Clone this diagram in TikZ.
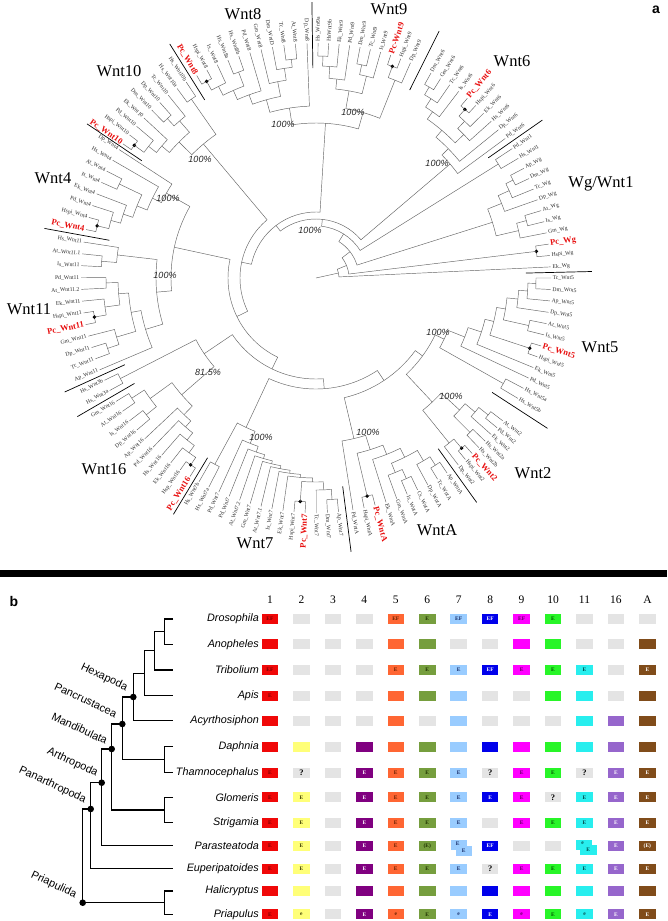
\documentclass[tikz,border=0pt]{standalone}
\usepackage{fontspec}
\setmainfont{Liberation Serif}
\newfontfamily\ars{Liberation Sans}
\definecolor{treegray}{RGB}{100,100,100}
\definecolor{leafgray}{RGB}{45,45,45}
\definecolor{pcred}{RGB}{232,16,16}
\definecolor{gry}{RGB}{228,228,228}
\definecolor{col1}{RGB}{240,8,8}
\definecolor{col2}{RGB}{255,255,120}
\definecolor{col3}{RGB}{228,228,228}
\definecolor{col4}{RGB}{128,0,128}
\definecolor{col5}{RGB}{255,102,51}
\definecolor{col6}{RGB}{118,158,62}
\definecolor{col7}{RGB}{153,204,255}
\definecolor{col8}{RGB}{0,0,235}
\definecolor{col9}{RGB}{255,0,255}
\definecolor{col10}{RGB}{40,245,40}
\definecolor{col11}{RGB}{40,238,238}
\definecolor{col12}{RGB}{150,102,204}
\definecolor{col13}{RGB}{128,76,26}
\definecolor{tcol1}{RGB}{120,0,0}
\definecolor{tcol2}{RGB}{60,60,0}
\definecolor{tcol3}{RGB}{0,0,0}
\definecolor{tcol4}{RGB}{255,255,255}
\definecolor{tcol5}{RGB}{100,30,0}
\definecolor{tcol6}{RGB}{30,50,0}
\definecolor{tcol7}{RGB}{20,40,100}
\definecolor{tcol8}{RGB}{255,255,255}
\definecolor{tcol9}{RGB}{90,0,90}
\definecolor{tcol10}{RGB}{0,80,0}
\definecolor{tcol11}{RGB}{0,70,70}
\definecolor{tcol12}{RGB}{255,255,255}
\definecolor{tcol13}{RGB}{255,255,255}
\newcommand\PC[1]{{\fontsize{8.5}{8.5}\selectfont\bfseries\color{pcred}#1}}
\newcommand\QQ{{\fontsize{8.5}{8.5}\selectfont ?}}
\def\tipR{235}
\def\labR{236.5}
\newcommand\lf[3]{%
  \expandafter\xdef\csname A@#1\endcsname{#2}%
  \expandafter\xdef\csname R@#1\endcsname{\tipR}%
  \pgfmathsetmacro\lfang{#2}%
  \pgfmathtruncatemacro\lfleft{(\lfang>90)&&(\lfang<270)}%
  \ifnum\lfleft=1
    \node[leaflab,anchor=east,rotate=\lfang+180] at (\lfang:\labR pt) {#3};%
  \else
    \node[leaflab,anchor=west,rotate=\lfang] at (\lfang:\labR pt) {#3};%
  \fi}
\newcommand\clade[3]{%
  \foreach \id/\txt [count=\i from 0] in {#3} {%
    \pgfmathsetmacro\ang{#1-\i*#2}%
    \lf{\id}{\ang}{\txt}}}
\newcommand\nd[4]{%
  \edef\ndaA{\csname A@#2\endcsname}\edef\ndrA{\csname R@#2\endcsname}%
  \edef\ndaB{\csname A@#3\endcsname}\edef\ndrB{\csname R@#3\endcsname}%
  \draw[treeln] (\ndaA:\ndrA pt) -- (\ndaA:#4pt) arc[start angle=\ndaA,end angle=\ndaB,radius=#4pt] -- (\ndaB:\ndrB pt);%
  \pgfmathsetmacro\ndaM{(\ndaA+\ndaB)/2}%
  \expandafter\xdef\csname A@#1\endcsname{\ndaM}%
  \expandafter\xdef\csname R@#1\endcsname{#4}}
\newcommand\dnd[4]{\nd{#1}{#2}{#3}{#4}%
  \edef\ndtmp{\csname A@#1\endcsname}%
  \fill[black] (\ndtmp:#4pt) circle (1.9pt);}
\begin{document}
\begin{tikzpicture}[x=1pt,y=1pt,
 treeln/.style={draw=treegray,line width=0.45pt},
 leaflab/.style={inner sep=0.1pt,font=\fontsize{5.7}{5.7}\selectfont,text=leafgray},
 sepbar/.style={draw=black,line width=0.7pt},
 pctlab/.style={font=\ars\itshape\fontsize{9}{9}\selectfont,text=black!85,inner sep=0pt},
 cladelab/.style={font=\fontsize{16.5}{16.5}\selectfont,inner sep=0pt},
 cellbox/.style={minimum width=16.5pt,minimum height=10pt,inner sep=0pt,font=\fontsize{5.5}{5.5}\selectfont\bfseries},
 hdrlab/.style={font=\fontsize{11.5}{11.5}\selectfont,inner sep=0pt},
 splab/.style={font=\ars\itshape\fontsize{10.8}{10.8}\selectfont,inner sep=0pt,anchor=east},
 grplab/.style={font=\ars\fontsize{11}{11}\selectfont,inner sep=0pt,rotate=-25},
 cladln/.style={line width=1.3pt,line join=miter},
 ]
\useasboundingbox (0,0) rectangle (667,-921);
\fill[white] (0,0) rectangle (667,-921);
% ================= panel a =================
\begin{scope}[shift={(316,-278)}]
\clade{89.5}{2.578}{a1/Hs\_Wnt9a,a2/HsWnt9b,a3/Ek\_Wnt9,a4/Pd\_Wnt9,a5/Dm\_Wnt9,a6/Tc\_Wnt9,a7/Is\_Wnt9,a8/\PC{Pc-Wnt9},a9/Hspi\_Wnt9,a10/Dp\_Wnt9}
\clade{60.7}{2.7}{b1/Dm\_Wnt6,b2/Gm\_Wnt6,b3/Tc\_Wnt6,b4/Is\_Wnt6,b5/\PC{Pc\_Wnt6},b6/Hspi\_Wnt6,b7/Ek\_Wnt6,b8/Hs\_Wnt6,b9/Dp\_Wnt6,b10/Pd\_Wnt6}
\clade{33.4}{2.79}{c1/Pd\_Wnt1,c2/Hs\_Wnt1,c3/Ap\_Wg,c4/Dm\_Wg,c5/Tc\_Wg,c6/Dp\_Wg,c7/At\_Wg,c8/Is\_Wg,c9/Gm\_Wg,c10/\PC{Pc\_Wg},c11/Hspi\_Wg,c12/Ek\_Wg}
\clade{360}{2.8}{d1/Tc\_Wnt5,d2/Dm\_Wnt5,d3/Ap\_Wnt5,d4/Dp\_Wnt5,d5/At\_Wnt5,d6/Is\_Wnt5,d7/\PC{Pc\_Wnt5},d8/Hspi\_Wnt5,d9/Ek\_Wnt5,d10/Pd\_Wnt5,d11/Hs\_Wnt5a,d12/Hs\_Wnt5b}
\clade{322.6}{2.19}{e1/At\_Wnt2,e2/Pd\_Wnt2,e3/Ek\_Wnt2,e4/Hs\_Wnt2a,e5/Hs\_Wnt2b,e6/\PC{Pc\_Wnt2},e7/Hspi\_Wnt2,e8/Dp\_Wnt2}
\clade{303.9}{2.76}{f1/Ap\_WntA,f2/Tc\_WntA,f3/Dp\_WntA,f4/Cs\_WntA,f5/Is\_WntA,f6/Gm\_WntA,f7/Ek\_WntA,f8/\PC{Pc\_WntA},f9/Hspi\_WntA,f10/Pd\_WntA}
\clade{275.5}{2.72}{g1/Ap\_Wnt7,g2/Dm\_Wnt7,g3/Tc\_Wnt7,g4/\PC{Pc\_Wnt7},g5/Hspi\_Wnt7,g6/Ek\_Wnt7,g7/Is\_Wnt7,g8/At\_Wnt7.1,g9/Gm\_Wnt7,g10/At\_Wnt7.2,g11/Pd\_Wnt7,g12/Pd\_Wnt7,g13/Hs\_Wnt7a,g14/Hs\_Wnt7b}
\clade{237.6}{2.88}{h1/\PC{Pc\_Wnt16},h2/Hsp\_Wnt16,h3/Ek\_Wnt16,h4/Hs\_Wnt16,h5/Pd\_Wnt16,h6/Ap\_Wnt16,h7/Dp\_Wnt16,h8/Is\_Wnt16,h9/At\_Wnt16,h10/Gm\_Wnt16}
\clade{208.6}{2.8}{i1/Hs\_Wnt3a,i2/Hs\_Wnt3b}
\clade{203}{2.89}{j1/Ap\_Wnt11,j2/Tc\_Wnt11,j3/Dp\_Wnt11,j4/Gm\_Wnt11,j5/\PC{Pc\_Wnt11},j6/Hspi\_Wnt11,j7/Ek\_Wnt11,j8/At\_Wnt11.2,j9/Pd\_Wnt11,j10/Is\_Wnt11,j11/At\_Wnt11.1,j12/Hs\_Wnt11}
\clade{168.1}{3.03}{k1/\PC{Pc\_Wnt4},k2/Hspi\_Wnt4,k3/Pd\_Wnt4,k4/Ek\_Wnt4,k5/Is\_Wnt4,k6/At\_Wnt4,k7/Hs\_Wnt4,k8/Dp\_Wnt4}
\clade{145.2}{2.71}{m1/\PC{Pc\_Wnt10},m2/Hspi\_Wnt10,m3/Pd\_Wnt10,m4/Ek\_Wnt10,m5/Dm\_Wnt10,m6/Dp\_Wnt10,m7/Tc\_Wnt10,m8/Hs\_Wnt10a,m9/Hs\_Wnt10b}
\clade{120.5}{2.83}{p1/\PC{Pc\_Wnt8},p2/Hspi\_Wnt8,p3/Is\_Wnt8,p4/Hs\_Wnt8a,p5/Hs\_Wnt8b,p6/Pd\_Wnt8,p7/Gm\_Wnt8,p8/Dm\_WntD,p9/Tc\_Wnt8,p10/At\_Wnt8,p11/Dp\_Wnt8}
% Wnt9
\nd{Na12}{a1}{a2}{222}\nd{Na13}{Na12}{a3}{212}\nd{Na14}{Na13}{a4}{200}
\nd{Na56}{a5}{a6}{218}\nd{Na57}{Na56}{a7}{208}\nd{NaL}{Na14}{Na57}{190}
\dnd{Na89}{a8}{a9}{225}\nd{NaR}{Na89}{a10}{213}\nd{W9}{NaL}{NaR}{172}
% Wnt6
\nd{Nb12}{b1}{b2}{222}\nd{Nb13}{Nb12}{b3}{213}\nd{Nb14}{Nb13}{b4}{203}
\dnd{Nb56}{b5}{b6}{225}\nd{Nb57}{Nb56}{b7}{216}\nd{Nb58}{Nb57}{b8}{206}
\nd{NbM}{Nb14}{Nb58}{194}\nd{NbM9}{NbM}{b9}{185}\nd{W6}{NbM9}{b10}{176}
% Wg
\nd{Nc12}{c1}{c2}{215}\nd{Nc34}{c3}{c4}{220}\nd{Nc35}{Nc34}{c5}{212}\nd{Nc36}{Nc35}{c6}{200}
\nd{Nc78}{c7}{c8}{218}\nd{Nc79}{Nc78}{c9}{208}\nd{NcD}{Nc36}{Nc79}{185}
\dnd{NcPH}{c10}{c11}{222}
% Wnt5
\nd{Nd12}{d1}{d2}{220}\nd{Nd13}{Nd12}{d3}{212}\nd{Nd14}{Nd13}{d4}{203}
\nd{Nd56}{d5}{d6}{218}\nd{NdA}{Nd14}{Nd56}{192}\dnd{Nd78}{d7}{d8}{225}
\nd{NdB}{NdA}{Nd78}{183}\nd{NdB9}{NdB}{d9}{174}\nd{NdB10}{NdB9}{d10}{160}
\nd{Nd1112}{d11}{d12}{215}\nd{W5}{NdB10}{Nd1112}{142}
% Wnt2
\nd{Ne12}{e1}{e2}{220}\nd{Ne13}{Ne12}{e3}{208}\nd{Ne45}{e4}{e5}{218}
\nd{NeA}{Ne13}{Ne45}{195}\dnd{Ne67}{e6}{e7}{224}\nd{Ne68}{Ne67}{e8}{212}
\nd{W2}{NeA}{Ne68}{170}
% WntA
\nd{Nf12}{f1}{f2}{222}\nd{Nf13}{Nf12}{f3}{212}\nd{Nf45}{f4}{f5}{220}
\nd{Nf46}{Nf45}{f6}{210}\nd{NfA}{Nf13}{Nf46}{200}\nd{NfA7}{NfA}{f7}{190}
\dnd{Nf89}{f8}{f9}{224}\nd{NfB}{NfA7}{Nf89}{180}\nd{WA}{NfB}{f10}{165}
% Wnt7
\nd{Ng12}{g1}{g2}{222}\nd{Ng13}{Ng12}{g3}{212}\dnd{Ng45}{g4}{g5}{224}
\nd{NgA}{Ng13}{Ng45}{204}\nd{NgA6}{NgA}{g6}{200}\nd{NgA7}{NgA6}{g7}{197}
\nd{NgA8}{NgA7}{g8}{194}\nd{NgA9}{NgA8}{g9}{191}\nd{NgA10}{NgA9}{g10}{188}
\nd{NgA11}{NgA10}{g11}{184}\nd{NgA12}{NgA11}{g12}{178}
\nd{Ng1314}{g13}{g14}{212}\nd{W7}{NgA12}{Ng1314}{165}
% Wnt16, Wnt3
\dnd{Nh12}{h1}{h2}{225}\nd{Nh13}{Nh12}{h3}{216}\nd{Nh14}{Nh13}{h4}{207}
\nd{Nh15}{Nh14}{h5}{198}\nd{NhA}{Nh15}{h6}{190}\nd{Nh78}{h7}{h8}{218}
\nd{Nh910}{h9}{h10}{220}\nd{NhB}{Nh78}{Nh910}{205}\nd{W16}{NhA}{NhB}{178}
\nd{Ni12}{i1}{i2}{220}\nd{W163}{W16}{Ni12}{135}
% Wnt11
\nd{Nj23}{j2}{j3}{220}\nd{Nj24}{Nj23}{j4}{208}\dnd{Nj56}{j5}{j6}{225}
\nd{Nj57}{Nj56}{j7}{213}\nd{Nj89}{j8}{j9}{210}\nd{NjF}{Nj57}{Nj89}{198}
\nd{NjG}{Nj24}{NjF}{188}\nd{NjH}{j1}{NjG}{178}\nd{Nj1011}{j10}{j11}{215}
\nd{NjJ}{Nj1011}{j12}{200}\nd{W11}{NjH}{NjJ}{160}
% Wnt4
\dnd{Nk12}{k1}{k2}{225}\nd{Nk13}{Nk12}{k3}{213}\nd{Nk14}{Nk13}{k4}{203}
\nd{Nk56}{k5}{k6}{218}\nd{NkA}{Nk14}{Nk56}{193}\nd{NkA7}{NkA}{k7}{182}
\nd{W4}{NkA7}{k8}{172}
% Wnt10
\dnd{Nm12}{m1}{m2}{225}\nd{Nm13}{Nm12}{m3}{213}\nd{Nm14}{Nm13}{m4}{203}
\nd{Nm56}{m5}{m6}{218}\nd{Nm57}{Nm56}{m7}{208}\nd{NmA}{Nm14}{Nm57}{193}
\nd{Nm89}{m8}{m9}{218}\nd{W10}{NmA}{Nm89}{175}
% Wnt8
\dnd{Np12}{p1}{p2}{225}\nd{Np13}{Np12}{p3}{215}\nd{Np45}{p4}{p5}{220}
\nd{NpA}{Np13}{Np45}{205}\nd{NpA6}{NpA}{p6}{195}\nd{Np910}{p9}{p10}{220}
\nd{Np810}{p8}{Np910}{212}\nd{NpB}{p7}{Np810}{200}\nd{NpC}{NpA6}{NpB}{185}
\nd{W8}{NpC}{p11}{172}
% joins and backbone
\nd{W89}{W8}{W9}{155}
\nd{W411}{W11}{W4}{145}
\nd{X10}{W2}{W5}{132}
\nd{X9}{WA}{X10}{123}
\nd{X8}{W7}{X9}{111}
\nd{X7}{W163}{X8}{101}
\nd{X6}{W411}{X7}{88}
\nd{X5}{W10}{X6}{76}
\nd{X4}{W89}{X5}{66}
\nd{X3}{W6}{X4}{59}
\nd{X2b}{Nc12}{X3}{52}
\nd{X2}{NcD}{X2b}{43}
\nd{X1}{NcPH}{X2}{33}
\nd{X0}{c12}{X1}{23}
\edef\ndtmp{\csname A@X0\endcsname}
\draw[treeln] (0,0) -- (\ndtmp:23pt);
% separator bars
\foreach \b in {90.85,63.5,34.9,1.35,327,305.6,277.3,238.9,210.15,204.4,169.65,146.05,122}
  \draw[sepbar] (\b:210pt) -- (\b:276pt);
\end{scope}
% clade names
\node[cladelab] (n8) at (243,-14) {Wnt8};
\node[cladelab] (n9) at (389,-9) {Wnt9};
\node[cladelab] (n6) at (512,-61) {Wnt6};
\node[cladelab] (n1) at (601,-184) {Wg/Wnt1};
\node[cladelab] (n5) at (600,-347) {Wnt5};
\node[cladelab] (n2) at (533,-473) {Wnt2};
\node[cladelab] (nA) at (437,-530) {WntA};
\node[cladelab] (n7) at (255,-543) {Wnt7};
\node[cladelab] (n16) at (104,-469) {Wnt16};
\node[cladelab] (n11) at (29,-309) {Wnt11};
\node[cladelab] (n4) at (53,-178) {Wnt4};
\node[cladelab] (n10) at (119,-71) {Wnt10};
% support values
\node[pctlab] (q1) at (283,-124) {100\%};
\node[pctlab] (q2) at (200,-159) {100\%};
\node[pctlab] (q3) at (353,-112) {100\%};
\node[pctlab] (q4) at (437,-163) {100\%};
\node[pctlab] (q5) at (168,-198) {100\%};
\node[pctlab] (q6) at (165,-275) {100\%};
\node[pctlab] (q7) at (208,-372) {81.5\%};
\node[pctlab] (q8) at (261,-437) {100\%};
\node[pctlab] (q9) at (368,-432) {100\%};
\node[pctlab] (q10) at (451,-396) {100\%};
\node[pctlab] (q11) at (438,-332) {100\%};
\node[pctlab] (q12) at (310,-230) {100\%};
\node[font=\ars\bfseries\fontsize{14}{14}\selectfont,inner sep=0pt] (la) at (656,-10) {a};
% thick separator
\fill[black] (0,-570) rectangle (667,-577);
% ================= panel b =================
\node[font=\ars\bfseries\fontsize{14}{14}\selectfont,inner sep=0pt] (lb) at (14,-601) {b};
\foreach \h [count=\c] in {1,2,3,4,5,6,7,8,9,10,11,16,A} {
  \pgfmathsetmacro\bx{270+31.45*(\c-1)}
  \node[hdrlab] (h\c) at (\bx,-600) {\h};
}
\foreach \sp/\yy/\cells [count=\r] in {
 Drosophila/619/{1/EF,0/{},0/{},0/{},1/EF,1/E,1/EF,1/EF,1/EF,1/E,0/{},0/{},0/{}},
 Anopheles/644.3/{1/{},0/{},0/{},0/{},1/{},1/{},0/{},0/{},1/{},1/{},0/{},0/{},1/{}},
 Tribolium/670/{1/EF,0/{},0/{},0/{},1/E,1/E,1/E,1/EF,1/E,1/E,1/E,0/{},1/E},
 Apis/695.7/{1/E,0/{},0/{},0/{},1/{},1/{},1/{},0/{},0/{},1/{},1/{},0/{},1/{}},
 Acyrthosiphon/720.7/{1/{},0/{},0/{},0/{},1/{},0/{},1/{},0/{},0/{},0/{},1/{},1/{},1/{}},
 Daphnia/746.7/{1/{},1/{},0/{},1/{},1/{},1/{},1/{},1/{},1/{},1/{},1/{},1/{},1/{}},
 Thamnocephalus/772.7/{1/E,0/\QQ,0/{},1/E,1/E,1/E,1/E,0/\QQ,1/E,1/E,0/\QQ,1/E,1/E},
 Glomeris/797.3/{1/E,1/E,0/{},1/E,1/E,1/E,1/E,1/E,1/E,0/\QQ,1/E,1/E,1/E},
 Strigamia/822.7/{1/E,1/E,0/{},1/E,1/E,1/E,1/E,0/{},1/E,1/E,1/E,1/E,1/E},
 Parasteatoda/845.7/{1/E,1/E,0/{},1/E,1/E,1/(E),2/{},1/EF,0/{},0/{},2/{},1/E,1/(E)},
 Euperipatoides/868.7/{1/E,1/E,0/{},1/E,1/E,1/E,1/E,0/\QQ,1/E,1/E,1/E,1/E,1/E},
 Halicryptus/891/{1/{},1/{},0/{},1/{},1/{},1/{},1/{},1/{},1/{},1/{},1/{},1/{},1/{}},
 Priapulus/914.3/{1/E,1/e,0/{},1/E,1/e,1/E,1/e,1/E,1/e,1/E,1/e,1/E,1/E}} {
  \node[splab] (s\r) at (259,-\yy) {\sp};
  \foreach \st/\tx [count=\c] in \cells {
    \pgfmathsetmacro\bx{270+31.45*(\c-1)}
    \ifnum\st=1 \edef\fc{col\c}\edef\tc{tcol\c}\node[cellbox,fill=\fc,text=\tc] (b\r-\c) at (\bx,-\yy) {\tx};\fi
    \ifnum\st=0 \node[cellbox,fill=gry] (b\r-\c) at (\bx,-\yy) {\tx};\fi
  }
}
% Parasteatoda double entries
\node[cellbox,fill=col7] (d7a) at (459.2,-845.3) {};
\node[cellbox,fill=col7,text=tcol7] (d7b) at (463.8,-850.5) {E};
\node[font=\fontsize{5.5}{5.5}\selectfont\bfseries,text=tcol7,inner sep=0pt] (d7t) at (457.7,-843.2) {E};
\node[cellbox,fill=col11] (d11a) at (583.8,-845) {};
\node[cellbox,fill=col11,text=tcol11] (d11b) at (588.3,-850) {E};
\node[font=\fontsize{5.5}{5.5}\selectfont\bfseries,text=tcol11,inner sep=0pt] (d11t) at (582.5,-842.8) {e};
% cladogram
\begin{scope}[cladln]
\draw (173,-619) -- (164.3,-619) -- (164.3,-644.3) -- (173,-644.3);
\draw (164.3,-631.7) -- (154.3,-631.7) -- (154.3,-670) -- (173,-670);
\draw (154.3,-650.8) -- (144.3,-650.8) -- (144.3,-695.7) -- (173,-695.7);
\draw (144.3,-673.3) -- (133.3,-673.3) -- (133.3,-720.7) -- (173,-720.7);
\draw (133.3,-697) -- (122.3,-697) -- (122.3,-759.7) -- (164.3,-759.7);
\draw (173,-746.7) -- (164.3,-746.7) -- (164.3,-772.7) -- (173,-772.7);
\draw (122.3,-724) -- (111.7,-724) -- (111.7,-810) -- (164.3,-810);
\draw (173,-797.3) -- (164.3,-797.3) -- (164.3,-822.7) -- (173,-822.7);
\draw (111.7,-749) -- (101.7,-749) -- (101.7,-845.7) -- (173,-845.7);
\draw (101.7,-782.7) -- (90.7,-782.7) -- (90.7,-868.7) -- (173,-868.7);
\draw (90.7,-809) -- (82.7,-809) -- (82.7,-902.7) -- (164.3,-902.7);
\draw (173,-891) -- (164.3,-891) -- (164.3,-914.3) -- (173,-914.3);
\end{scope}
\foreach \p in {(133.3,-697),(122.3,-724),(111.7,-749),(101.7,-782.7),(90.7,-809),(82.7,-902.7)}
  \fill[black] \p circle (3.3pt);
\node[grplab] (g1) at (104.2,-677.5) {Hexapoda};
\node[grplab] (g2) at (85.8,-700) {Pancrustacea};
\node[grplab] (g3) at (79.7,-728.3) {Mandibulata};
\node[grplab] (g4) at (72.5,-762.5) {Arthropoda};
\node[grplab] (g5) at (52.5,-785) {Panarthropoda};
\node[grplab] (g6) at (53.8,-885) {Priapulida};
\end{tikzpicture}
\end{document}
